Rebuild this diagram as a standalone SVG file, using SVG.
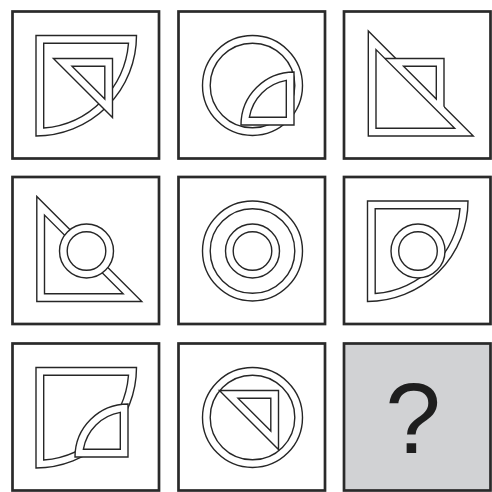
<svg xmlns="http://www.w3.org/2000/svg" xmlns:xlink="http://www.w3.org/1999/xlink" width="492" height="492" viewBox="0 0 492 492">
<style>
.box{fill:#fff;stroke:#2a2a2a;stroke-width:2.7}
.q{fill:#d1d2d4}
.o{fill:#fff;stroke:#262626;stroke-width:1.4;stroke-linejoin:miter}
.i{fill:#fff;stroke:#262626;stroke-width:1.4}
.n{fill:none;stroke:#262626;stroke-width:1.4}
.w{fill:#fff;stroke:none}
.qm{font-family:"Liberation Sans",Arial,sans-serif;font-size:100px;fill:#1e1e1e}
</style>
<defs>
<g id="ls"><path class="o" d="M23.5,24 H124 A100.5,100.5 0 0 1 23.5,124.5 Z"/><path class="i" d="M31.2,31.7 H116 A92.8,92.8 0 0 1 31.2,116.5 Z"/></g>
<g id="ss"><path class="o" d="M115.5,113.5 V60.5 A53,53 0 0 0 62.5,113.5 Z"/><path class="i" d="M107.8,105.8 V68.86 A45.3,45.3 0 0 0 70.86,105.8 Z"/></g>
<g id="lt"><path class="o" d="M24.3,19.5 V124.5 H129.3 Z"/><path class="i" d="M32,38.1 V116.8 H110.7 Z"/></g>
<g id="st"><path class="o" d="M40.9,47 H100 V106.1 Z"/><path class="i" d="M59.5,54.7 H92.3 V87.5 Z"/></g>
<g id="lc"><circle class="o" cx="74" cy="74" r="50"/><circle class="i" cx="74" cy="74" r="42.3"/></g>
<g id="sc"><circle class="o" cx="74" cy="74" r="27"/><circle class="i" cx="74" cy="74" r="19.3"/></g>
</defs>
<g id="cell1" transform="translate(12.5,11.5)">
<rect class="box" x="0" y="0" width="146.5" height="147"/>
<use xlink:href="#ls"/><use xlink:href="#st"/>
</g>
<g id="cell2" transform="translate(178.5,11.5)">
<rect class="box" x="0" y="0" width="146.5" height="147"/>
<use xlink:href="#lc"/><use xlink:href="#ss"/>
</g>
<g id="cell3" transform="translate(344,11.5)">
<rect class="box" x="0" y="0" width="146.5" height="147"/>
<path class="o" d="M24.3,19.5 V124.5 H129.3 Z"/>
<path class="w" d="M40.9,47 H100 V106.1 Z"/>
<path class="n" d="M32,38.1 V116.8 H110.7 Z"/>
<path class="n" d="M40.9,47 H100 V95.2"/>
<path class="n" d="M59.5,54.7 H92.3 V87.5 Z"/>
</g>
<g id="cell4" transform="translate(12.5,177)">
<rect class="box" x="0" y="0" width="146.5" height="147"/>
<use xlink:href="#lt"/><use xlink:href="#sc"/>
</g>
<g id="cell5" transform="translate(178.5,177)">
<rect class="box" x="0" y="0" width="146.5" height="147"/>
<use xlink:href="#lc"/><use xlink:href="#sc"/>
</g>
<g id="cell6" transform="translate(344,177)">
<rect class="box" x="0" y="0" width="146.5" height="147"/>
<use xlink:href="#ls"/><use xlink:href="#sc"/>
</g>
<g id="cell7" transform="translate(12.5,343.5)">
<rect class="box" x="0" y="0" width="146.5" height="147"/>
<use xlink:href="#ls"/><use xlink:href="#ss"/>
</g>
<g id="cell8" transform="translate(178.5,343.5)">
<rect class="box" x="0" y="0" width="146.5" height="147"/>
<use xlink:href="#lc"/><use xlink:href="#st"/>
</g>
<g id="cell9" transform="translate(344,343.5)">
<rect class="box q" x="0" y="0" width="146.5" height="147"/>
<text class="qm" x="69" y="109.5" text-anchor="middle">?</text>
</g>
</svg>
